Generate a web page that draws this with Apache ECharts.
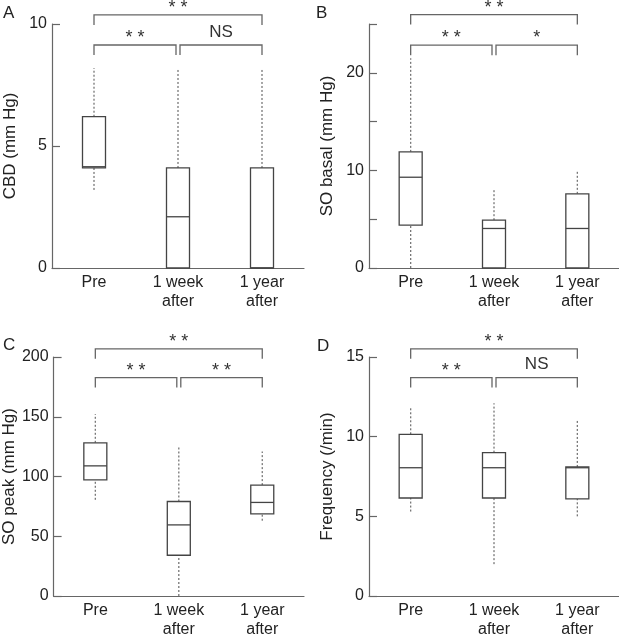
<!DOCTYPE html>
<html><head><meta charset="utf-8">
<script src="https://cdn.jsdelivr.net/npm/echarts@6/dist/echarts.min.js"></script>
<style>html,body{margin:0;padding:0;background:#fff}#c{width:619px;height:639px}</style>
</head><body><div id="c"></div>
<script>
// Categories (x axis)
const categories = ['Pre', '1 week\nafter', '1 year\nafter'];

// Box values per category: [min, Q1, median, Q3, max]
const cbdValues = [[3.2, 4.1, 4.15, 6.2, 8.2], [0, 0, 2.1, 4.1, 8.2], [0, 0, 0, 4.1, 8.2]];
const soBasalValues = [[0, 4.4, 9.3, 11.9, 21.5], [0, 0, 4.05, 4.9, 8.1], [0, 0, 4.05, 7.6, 10.0]];
const soPeakValues = [[80.5, 97.1, 108.9, 128.2, 152.2], [0, 34.1, 59.5, 79.1, 125], [63, 68.8, 78.3, 92.8, 120.9]];
const frequencyValues = [[5.3, 6.15, 8.05, 10.15, 11.9], [2.0, 6.15, 8.05, 9.0, 12.1], [5.0, 6.1, 8.05, 8.1, 11.1]];

// Significance brackets: [fromCategory, toCategory, level (y units), label]
const cbdBrackets = [[0, 2, 10.37, '* *'], [0, 1, 9.14, '* *'], [1, 2, 9.14, 'NS']];
const soBasalBrackets = [[0, 2, 25.97, '* *'], [0, 1, 22.83, '* *'], [1, 2, 22.83, '*']];
const soPeakBrackets = [[0, 2, 206.8, '* *'], [0, 1, 182.8, '* *'], [1, 2, 182.8, '* *']];
const frequencyBrackets = [[0, 2, 15.51, '* *'], [0, 1, 13.71, '* *'], [1, 2, 13.71, 'NS']];

// Axis settings (tick labels)
const panelLetters = ['A', 'B', 'C', 'D'];
const axisNames = ['CBD (mm Hg)', 'SO basal (mm Hg)', 'SO peak (mm Hg)', 'Frequency (/min)'];
const yMaxes = [10, 25, 200, 15];
const yIntervals = [5, 5, 50, 5];
const yLabelTicks = [[0, 5, 10], [0, 10, 20], [0, 50, 100, 150, 200], [0, 5, 10, 15]];

const panelValues = [cbdValues, soBasalValues, soPeakValues, frequencyValues];
const panelBrackets = [cbdBrackets, soBasalBrackets, soPeakBrackets, frequencyBrackets];

const FONT = "'Liberation Sans', Arial, Helvetica, sans-serif";
const grids = [
  {left: 52, top: 24, width: 252, height: 244},
  {left: 369, top: 24, width: 252, height: 244},
  {left: 52, top: 357, width: 252, height: 244},
  {left: 369, top: 357, width: 252, height: 244}
];
const letterPos = [[3, 5], [316, 5], [3, 337], [317, 338]];

function renderBox(params, api) {
  const i = api.value(0);
  const yOf = v => api.coord([i, v])[1];
  const x = api.coord([i, 0])[0];
  const yMin = yOf(api.value(1)), yQ1 = yOf(api.value(2)), yMed = yOf(api.value(3)),
        yQ3 = yOf(api.value(4)), yMax = yOf(api.value(5));
  const hw = 11.5;
  const dash = {stroke: '#777', lineWidth: 1.3, lineDash: [2, 2]};
  const solid = {stroke: '#444', lineWidth: 1.3};
  const ch = [];
  if (yMax < yQ3) ch.push({type: 'line', shape: {x1: x, y1: yQ3, x2: x, y2: yMax}, style: dash});
  if (yMin > yQ1) ch.push({type: 'line', shape: {x1: x, y1: yMin, x2: x, y2: yQ1}, style: dash});
  ch.push({type: 'rect', shape: {x: x - hw, y: yQ3, width: 2 * hw, height: yQ1 - yQ3}, style: Object.assign({fill: '#fff'}, solid)});
  ch.push({type: 'line', shape: {x1: x - hw, y1: yMed, x2: x + hw, y2: yMed}, style: solid});
  return {type: 'group', children: ch};
}

function makeBracketRender(list) {
  return function (params, api) {
    const b = list[params.dataIndex];
    const y = api.coord([0, b[2]])[1];
    let x1 = api.coord([b[0], 0])[0], x2 = api.coord([b[1], 0])[0];
    if (b[1] - b[0] === 1) { if (b[0] === 1) x1 += 2; if (b[1] === 1) x2 -= 2; }
    const leg = 10;
    const isNS = b[3] === 'NS';
    return {type: 'group', children: [
      {type: 'polyline', shape: {points: [[x1, y + leg], [x1, y], [x2, y], [x2, y + leg]]},
        style: {stroke: '#666', fill: null, lineWidth: 1.3}},
      {type: 'text', x: (x1 + x2) / 2, y: y - (isNS ? 13 : 7),
        style: {text: b[3], fill: '#333', font: (isNS ? '17px ' : '18px ') + FONT, align: 'center', verticalAlign: 'middle'}}
    ]};
  };
}

const option = {
  backgroundColor: '#fff',
  animation: false,
  textStyle: {fontFamily: FONT},
  title: panelLetters.map((t, k) => ({text: t, left: letterPos[k][0], top: letterPos[k][1], padding: 0,
    textStyle: {fontSize: 17, fontWeight: 'normal', color: '#222', fontFamily: FONT}})),
  grid: grids,
  xAxis: grids.map((g, k) => ({
    type: 'category', gridIndex: k, data: categories, boundaryGap: true,
    axisLine: {lineStyle: {color: '#666', width: 1.2}},
    axisTick: {inside: true, length: 7, alignWithLabel: true, lineStyle: {color: '#666', width: 1.2}},
    axisLabel: {color: '#222', fontSize: 16, lineHeight: 19, margin: 5, fontFamily: FONT},
    splitLine: {show: false}
  })),
  yAxis: grids.map((g, k) => ({
    type: 'value', gridIndex: k, min: 0, max: yMaxes[k], interval: yIntervals[k],
    name: axisNames[k], nameLocation: 'middle', nameGap: 33,
    nameTextStyle: {fontSize: 17, color: '#222', fontFamily: FONT},
    axisLine: {show: true, lineStyle: {color: '#666', width: 1.2}},
    axisTick: {show: true, inside: true, length: 8, lineStyle: {color: '#666', width: 1.2}},
    axisLabel: {color: '#222', fontSize: 16, margin: 5, fontFamily: FONT,
      formatter: v => (yLabelTicks[k].indexOf(v) >= 0 ? String(v) : '')},
    splitLine: {show: false}
  })),
  series: []
};

panelValues.forEach((vals, k) => {
  option.series.push({
    type: 'custom', xAxisIndex: k, yAxisIndex: k, clip: false,
    renderItem: renderBox,
    encode: {x: 0, y: [1, 2, 3, 4, 5]},
    data: vals.map((d, i) => [i].concat(d)),
    z: 3
  });
  const br = panelBrackets[k];
  option.series.push({
    type: 'custom', xAxisIndex: k, yAxisIndex: k, clip: false,
    renderItem: makeBracketRender(br),
    encode: {x: 0, y: 1},
    data: br.map(b => [b[0], b[2]]),
    z: 4
  });
});

const chart = echarts.init(document.getElementById('c'), null, {renderer: 'canvas'});
chart.setOption(option);
</script>
</body></html>
